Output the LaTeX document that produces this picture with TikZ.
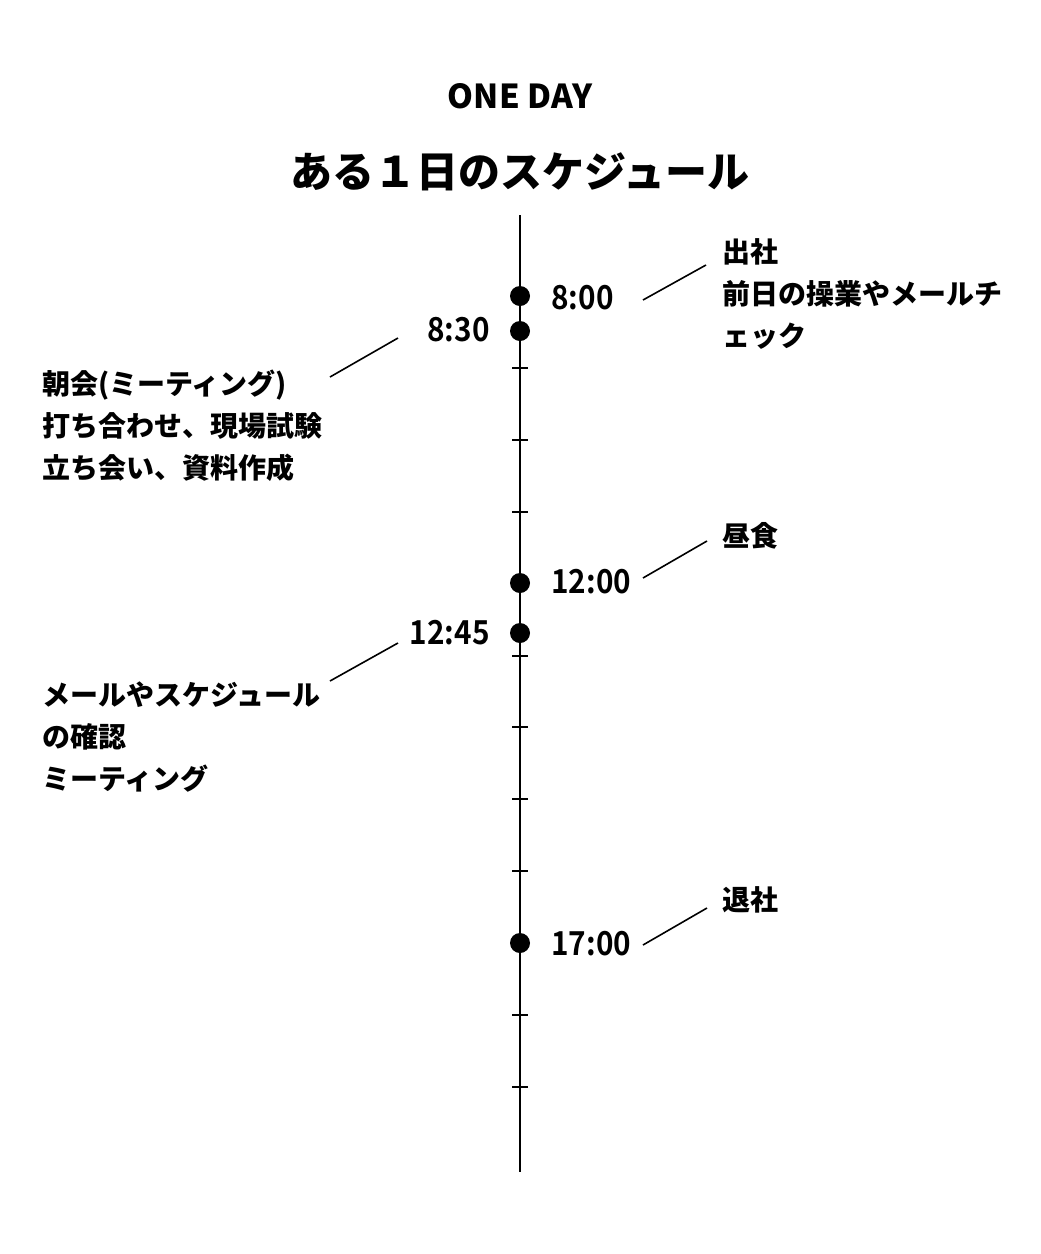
\documentclass[tikz,border=0pt]{standalone}
\usepackage{fontspec}
\setmainfont{Noto Sans CJK JP}
\newfontfamily\timefont{Noto Sans CJK JP}[UprightFont=* Bold,FakeStretch=0.9]
\usetikzlibrary{positioning}

\begin{document}
\begin{tikzpicture}[x=0.5pt,y=-0.5pt]
\tikzset{
  dot/.style={circle,fill=black,minimum size=10pt,inner sep=0pt},
  timelabel/.style={inner sep=0pt,font=\timefont\fontsize{16.5}{19}\selectfont},
  notebox/.style={inner sep=0pt,align=left,anchor=north west,font=\fontsize{14}{21}\selectfont\bfseries},
  timeline/.style={line width=1pt},
  leader/.style={line width=0.8pt}
}
\useasboundingbox (0,0) rectangle (1040,1254);
% heading
\node[font=\fontsize{16.5}{19}\selectfont\bfseries] (n_sub) at (520,96) {ONE DAY};
\node[font=\fontsize{21}{24}\selectfont\bfseries] (n_title) at (520,172) {ある１日のスケジュール};
% timeline
\coordinate (c_top) at (520,215);
\coordinate (c_bot) at (520,1172);
\draw[timeline] (c_top) -- (c_bot);
\foreach \h in {9,10,11,13,14,15,16,18,19}
  \draw[timeline] (512,{296+(\h-8)*71.9}) -- (528,{296+(\h-8)*71.9});
\node[dot] (n_d800) at (520,296) {};
\node[dot] (n_d830) at (520,331) {};
\node[dot] (n_d1200) at (520,583) {};
\node[dot] (n_d1245) at (520,633) {};
\node[dot] (n_d1700) at (520,943) {};
% times
\node[timelabel,anchor=west] (n_t800) at (551,298) {8:00};
\node[timelabel,anchor=east] (n_t830) at (490,330) {8:30};
\node[timelabel,anchor=west] (n_t1200) at (551,582) {12:00};
\node[timelabel,anchor=east] (n_t1245) at (490,633) {12:45};
\node[timelabel,anchor=west] (n_t1700) at (551,944) {17:00};
% notes
\node[notebox] (n_n800) at (722,238) {出社\\前日の操業やメールチ\\ェック};
\node[notebox] (n_n830) at (42,370) {朝会(ミーティング)\\打ち合わせ、現場試験\\立ち会い、資料作成};
\node[notebox] (n_n1200) at (722,522) {昼食};
\node[notebox] (n_n1245) at (42,681) {メールやスケジュール\\の確認\\ミーティング};
\node[notebox] (n_n1700) at (722,886) {退社};
% leaders
\coordinate (c_l800a) at (643,300);
\coordinate (c_l800b) at (706,265);
\coordinate (c_l830a) at (398,338);
\coordinate (c_l830b) at (330,377);
\coordinate (c_l1200a) at (643,578);
\coordinate (c_l1200b) at (707,541);
\coordinate (c_l1245a) at (398,643);
\coordinate (c_l1245b) at (330,681);
\coordinate (c_l1700a) at (643,945);
\coordinate (c_l1700b) at (707,908);
\draw[leader] (c_l800a) -- (c_l800b);
\draw[leader] (c_l830a) -- (c_l830b);
\draw[leader] (c_l1200a) -- (c_l1200b);
\draw[leader] (c_l1245a) -- (c_l1245b);
\draw[leader] (c_l1700a) -- (c_l1700b);
\end{tikzpicture}
\end{document}
